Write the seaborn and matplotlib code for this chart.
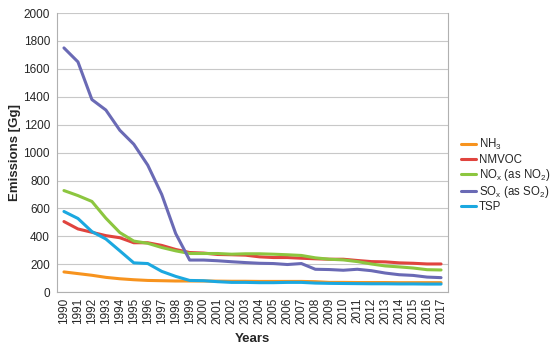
import pandas as pd
import matplotlib
matplotlib.use("Agg")
import matplotlib.pyplot as plt
import seaborn as sns

# emissions per pollutant, Gg
years = list(range(1990, 2018))
nh3 = [145, 133, 121, 106, 96, 89, 84, 82, 80, 80, 80, 79, 78, 78, 77,
       77, 77, 77, 75, 70, 70, 69, 69, 69, 68, 68, 68, 68]
nmvoc = [506, 453, 429, 405, 390, 354, 354, 335, 306, 284, 280, 270, 268, 265, 253,
         248, 248, 243, 239, 236, 236, 227, 219, 217, 210, 207, 202, 202]
nox = [728, 692, 650, 530, 427, 366, 350, 320, 296, 277, 277, 277, 272, 275, 275,
       272, 268, 263, 246, 236, 231, 219, 202, 188, 181, 173, 161, 159]
sox = [1750, 1650, 1380, 1305, 1160, 1060, 910, 700, 420, 230, 230, 225, 218, 212, 207,
       205, 198, 205, 164, 162, 157, 164, 154, 137, 125, 120, 108, 104]
tsp = [578, 528, 434, 381, 296, 210, 205, 149, 113, 84, 82, 75, 70, 70, 68,
       68, 70, 70, 65, 63, 62, 61, 60, 60, 59, 59, 58, 58]

labels = ["NH$_3$", "NMVOC", "NO$_x$ (as NO$_2$)", "SO$_x$ (as SO$_2$)", "TSP"]
colors = ["#F7931E", "#E0443E", "#8CC63F", "#6A6AB5", "#1BA8E0"]

df = pd.concat([
    pd.DataFrame({"Year": years, "Emissions": vals, "Pollutant": lab})
    for lab, vals in zip(labels, [nh3, nmvoc, nox, sox, tsp])
])

sns.set_style("white")
plt.rcParams["font.family"] = ["Liberation Sans", "DejaVu Sans"]
plt.rcParams["mathtext.default"] = "regular"

fig = plt.figure(figsize=(5.5, 3.52), dpi=100)
ax = fig.add_axes([0.1036, 0.170, 0.711, 0.793])

sns.lineplot(data=df, x="Year", y="Emissions", hue="Pollutant",
             hue_order=labels, palette=colors, linewidth=2.2, ax=ax)

ax.set_xlim(1989.5, 2017.5)
ax.set_ylim(0, 2000)
ax.set_yticks(range(0, 2001, 200))
ax.set_xticks(years)
ax.set_xticklabels([str(y) for y in years], rotation=90, fontsize=8.5)
ax.set_xticks([y + 0.5 for y in range(1989, 2018)], minor=True)
ax.tick_params(axis="x", which="major", length=0, pad=4)
ax.tick_params(axis="x", which="minor", length=3, color="#b0b0b0")
ax.tick_params(axis="y", length=3, color="#b0b0b0", labelsize=8.5, pad=2)
ax.grid(axis="y", color="#c8c8c8", linewidth=0.8)
ax.set_axisbelow(True)

for side in ["left", "bottom", "right"]:
    ax.spines[side].set_color("#b0b0b0")
    ax.spines[side].set_linewidth(0.8)
ax.spines["top"].set_visible(False)

ax.set_xlabel("Years", fontweight="bold", fontsize=9.5)
ax.set_ylabel("Emissions [Gg]", fontweight="bold", fontsize=9.5)
ax.xaxis.set_label_coords(0.5, -0.147)
ax.yaxis.set_label_coords(-0.092, 0.5)

ax.legend(loc="upper left", bbox_to_anchor=(0.83, 0.623), bbox_transform=fig.transFigure,
          frameon=False, fontsize=8.3, handlelength=1.3, handletextpad=0.25,
          labelspacing=0.1, borderaxespad=0)

fig.savefig("out.png", dpi=100)
